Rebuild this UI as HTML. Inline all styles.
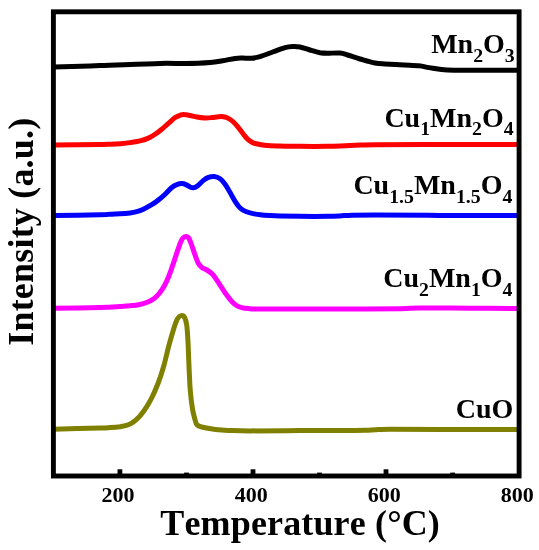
<!DOCTYPE html>
<html><head><meta charset="utf-8"><title>H2-TPR</title>
<style>html,body{margin:0;padding:0;background:#fff}svg{display:block}</style></head>
<body>
<svg width="539" height="550" viewBox="0 0 539 550">
<rect width="539" height="550" fill="#fff"/>
<path d="M54.0,67.0C61.7,66.8 82.3,66.2 100.0,65.6C117.7,65.0 145.8,63.7 160.0,63.4C174.2,63.1 176.7,63.7 185.0,63.6C193.3,63.5 203.7,63.1 210.0,62.6C216.3,62.1 218.4,61.5 222.6,60.8C226.8,60.1 231.7,58.8 235.0,58.4C238.3,58.0 239.9,58.1 242.6,58.1C245.3,58.1 248.5,58.5 251.4,58.3C254.3,58.0 256.4,57.6 260.0,56.6C263.6,55.6 268.5,53.5 272.7,52.0C276.9,50.5 281.7,48.5 285.0,47.6C288.3,46.7 290.2,46.6 292.7,46.5C295.2,46.4 297.1,46.4 300.0,47.0C302.9,47.6 306.7,49.0 310.0,50.0C313.3,51.0 317.1,52.2 320.0,52.8C322.9,53.3 324.2,53.3 327.5,53.3C330.8,53.3 336.6,52.7 340.0,53.0C343.4,53.3 344.3,54.0 347.6,55.0C350.9,56.0 355.4,57.7 360.0,59.0C364.6,60.3 370.8,62.2 375.0,63.0C379.2,63.8 380.2,63.7 385.0,64.0C389.8,64.3 398.3,64.7 404.0,65.0C409.7,65.3 414.8,65.4 419.0,65.8C423.2,66.2 425.2,67.0 429.0,67.6C432.8,68.2 437.3,69.2 441.5,69.6C445.7,70.0 447.6,70.1 454.0,70.2C460.4,70.3 469.2,70.3 480.0,70.3C490.8,70.3 512.5,70.3 519.0,70.3" fill="none" stroke="#000000" stroke-width="5" stroke-linejoin="round" stroke-linecap="butt"/>
<path d="M54.0,145.0C61.7,144.9 90.7,144.6 100.0,144.5C109.3,144.4 106.7,144.3 110.0,144.2C113.3,144.1 116.7,144.0 120.0,143.7C123.3,143.4 126.7,143.1 130.0,142.6C133.3,142.1 136.9,141.7 140.0,140.9C143.1,140.2 145.9,139.2 148.4,138.1C150.9,137.0 152.9,135.7 155.1,134.2C157.3,132.7 159.6,131.0 161.8,129.2C164.0,127.4 166.2,125.3 168.4,123.4C170.6,121.5 173.2,119.0 175.1,117.6C177.0,116.2 178.6,115.7 180.1,115.2C181.6,114.7 182.6,114.5 184.3,114.6C186.0,114.6 188.0,115.1 190.1,115.5C192.2,115.9 194.3,116.6 196.8,117.0C199.3,117.4 202.5,117.8 205.0,117.9C207.5,118.0 209.5,117.8 211.7,117.6C213.9,117.4 216.4,116.8 218.4,116.7C220.4,116.6 221.7,116.5 223.4,116.8C225.1,117.1 226.7,117.5 228.4,118.4C230.1,119.3 231.7,120.5 233.4,122.0C235.1,123.5 236.7,125.6 238.4,127.6C240.1,129.6 241.9,132.3 243.4,134.2C244.9,136.1 246.1,137.8 247.6,139.2C249.1,140.6 250.8,141.8 252.6,142.6C254.4,143.4 256.1,143.7 258.5,144.2C260.9,144.7 263.2,145.1 266.8,145.4C270.4,145.7 274.5,145.8 280.0,146.0C285.5,146.2 292.1,146.2 300.0,146.3C307.9,146.4 320.2,146.4 327.7,146.3C335.2,146.2 339.6,145.9 345.0,145.7C350.4,145.5 355.0,145.3 360.0,145.1C365.0,144.9 361.7,144.8 375.0,144.7C388.3,144.6 416.0,144.5 440.0,144.5C464.0,144.5 505.8,144.5 519.0,144.5" fill="none" stroke="#ff0000" stroke-width="5" stroke-linejoin="round" stroke-linecap="butt"/>
<path d="M54.0,215.6C61.7,215.5 90.7,215.0 100.0,214.8C109.3,214.6 106.7,214.4 110.0,214.2C113.3,214.0 116.7,213.9 120.0,213.7C123.3,213.5 127.2,213.2 130.0,212.9C132.8,212.6 134.5,212.3 136.7,211.7C138.9,211.1 140.9,210.4 143.4,209.2C145.9,208.0 149.2,206.2 151.7,204.7C154.2,203.2 156.2,201.8 158.4,200.0C160.6,198.2 162.9,196.3 165.1,194.2C167.3,192.1 169.9,189.1 171.8,187.5C173.8,185.9 175.1,185.2 176.8,184.6C178.5,183.9 180.3,183.6 181.8,183.6C183.3,183.6 184.6,184.0 186.0,184.6C187.4,185.2 188.9,186.5 190.1,187.0C191.3,187.5 192.2,188.0 193.4,187.8C194.6,187.7 195.5,187.3 197.2,186.1C198.9,184.9 201.5,181.9 203.4,180.4C205.3,178.9 206.6,178.0 208.4,177.3C210.2,176.7 212.2,176.3 214.2,176.5C216.1,176.7 218.3,177.4 220.1,178.7C221.9,180.0 223.4,181.9 225.1,184.2C226.8,186.5 228.4,189.7 230.1,192.6C231.8,195.5 233.6,199.0 235.1,201.4C236.6,203.8 237.9,205.6 239.3,207.1C240.7,208.6 241.6,209.4 243.4,210.4C245.2,211.4 247.3,212.2 250.1,212.9C252.9,213.6 256.8,214.4 260.1,214.8C263.4,215.2 266.8,215.4 270.1,215.6C273.4,215.8 275.0,215.9 280.0,216.0C285.0,216.1 292.1,216.2 300.0,216.3C307.9,216.4 321.0,216.4 327.7,216.3C334.4,216.2 335.9,216.1 340.0,215.9C344.1,215.7 346.2,215.3 352.0,215.2C357.8,215.0 360.3,215.0 375.0,215.0C389.7,215.0 416.0,215.3 440.0,215.4C464.0,215.5 505.8,215.4 519.0,215.4" fill="none" stroke="#0000ff" stroke-width="5" stroke-linejoin="round" stroke-linecap="butt"/>
<path d="M54.0,308.3C61.7,308.2 89.0,307.8 100.0,307.5C111.0,307.2 115.0,306.8 120.0,306.5C125.0,306.2 126.9,306.1 130.0,305.8C133.1,305.5 135.7,305.4 138.6,304.8C141.5,304.2 144.7,303.3 147.3,302.2C149.9,301.1 152.2,299.9 154.2,298.4C156.2,296.9 157.7,295.3 159.4,293.2C161.1,291.1 162.9,288.4 164.5,285.5C166.1,282.6 167.5,279.6 168.9,276.0C170.3,272.4 171.8,268.1 173.2,263.9C174.6,259.7 176.2,254.7 177.5,250.9C178.8,247.2 180.0,243.6 181.0,241.4C182.0,239.2 182.7,238.4 183.5,237.6C184.3,236.8 185.2,236.3 186.1,236.4C187.0,236.5 187.8,236.7 188.7,238.0C189.6,239.3 190.3,241.3 191.3,244.0C192.3,246.7 193.7,251.2 194.8,254.4C196.0,257.6 197.0,260.9 198.2,263.0C199.3,265.1 200.2,266.1 201.7,267.3C203.1,268.5 205.1,268.9 206.9,270.0C208.7,271.1 210.7,272.4 212.3,274.0C213.9,275.6 215.0,277.5 216.6,279.8C218.2,282.1 220.0,285.1 221.7,287.6C223.4,290.2 225.0,292.8 226.7,295.1C228.4,297.4 230.0,299.6 231.7,301.4C233.4,303.1 235.0,304.6 236.7,305.6C238.4,306.6 239.8,307.1 241.7,307.6C243.6,308.1 245.6,308.4 248.4,308.6C251.2,308.8 251.5,308.9 258.4,309.0C265.3,309.1 276.4,309.1 290.0,309.1C303.6,309.1 321.7,309.1 340.0,309.0C358.3,308.9 386.7,309.0 400.0,308.8C413.3,308.6 408.3,308.1 420.0,308.0C431.7,307.9 453.5,308.1 470.0,308.2C486.5,308.3 510.8,308.4 519.0,308.5" fill="none" stroke="#ff00ff" stroke-width="5" stroke-linejoin="round" stroke-linecap="butt"/>
<path d="M54.0,429.2C61.7,429.0 90.7,428.3 100.0,428.0C109.3,427.7 106.7,427.7 110.0,427.5C113.3,427.3 116.7,427.1 119.8,426.7C122.9,426.2 125.7,425.9 128.4,424.8C131.1,423.7 133.3,422.4 135.8,420.2C138.3,418.0 140.9,415.1 143.5,411.5C146.1,407.9 148.8,403.6 151.2,398.9C153.6,394.2 155.9,388.9 158.0,383.5C160.1,378.1 161.9,372.5 163.7,366.2C165.5,359.9 167.2,351.8 168.9,345.5C170.6,339.2 172.4,333.0 173.8,328.5C175.2,324.0 176.2,320.8 177.5,318.7C178.8,316.6 180.1,315.8 181.3,315.6C182.5,315.4 183.7,315.9 184.6,317.5C185.5,319.1 186.1,320.9 186.7,325.0C187.3,329.1 187.6,334.9 188.0,341.8C188.4,348.7 188.6,358.2 189.0,366.4C189.4,374.6 189.7,383.8 190.3,390.9C190.9,398.0 191.7,404.1 192.5,409.0C193.3,413.9 194.5,417.8 195.2,420.3C195.9,422.8 196.1,423.3 196.5,424.1C196.9,424.9 196.9,424.9 197.6,425.3C198.3,425.7 199.0,426.2 200.5,426.6C202.0,427.1 203.9,427.5 206.4,428.0C208.9,428.5 211.8,429.0 215.5,429.4C219.2,429.8 222.7,430.1 228.4,430.4C234.2,430.6 238.1,430.9 250.0,430.9C261.9,430.9 282.5,430.7 300.0,430.6C317.5,430.5 344.0,430.6 355.0,430.5C366.0,430.4 362.5,430.4 366.0,430.3C369.5,430.2 372.0,429.9 376.0,429.7C380.0,429.5 379.3,429.4 390.0,429.3C400.7,429.2 418.5,429.4 440.0,429.4C461.5,429.4 505.8,429.5 519.0,429.5" fill="none" stroke="#808000" stroke-width="5" stroke-linejoin="round" stroke-linecap="butt"/>
<rect x="117.5" y="469.3" width="4.8" height="5" fill="#000"/>
<rect x="250.6" y="469.3" width="4.8" height="5" fill="#000"/>
<rect x="383.6" y="469.3" width="4.8" height="5" fill="#000"/>
<rect x="184.1" y="472.6" width="4.8" height="2" fill="#000"/>
<rect x="317.1" y="472.6" width="4.8" height="2" fill="#000"/>
<rect x="450.2" y="472.6" width="4.8" height="2" fill="#000"/>
<rect x="53.4" y="11.8" width="465.70000000000005" height="464.2" fill="none" stroke="#000" stroke-width="4.9"/>
<g font-family="'Liberation Serif', serif" font-weight="bold" fill="#000" style="font-kerning:none">
<text x="118.1" y="502" font-size="22" text-anchor="middle">200</text>
<text x="251.2" y="502" font-size="22" text-anchor="middle">400</text>
<text x="384.2" y="502" font-size="22" text-anchor="middle">600</text>
<text x="517.3" y="502" font-size="22" text-anchor="middle">800</text>
<text x="160.3" y="534.5" font-size="36" letter-spacing="0.15">Temperature (°C)</text>
<text transform="translate(32.7,345.8) rotate(-90)" font-size="36" letter-spacing="0.2">Intensity (a.u.)</text>
<text x="431.2" y="53.2" font-size="28"><tspan font-size="28" dy="0">Mn</tspan><tspan font-size="19.8" dy="8.3">2</tspan><tspan font-size="28" dy="-8.3">O</tspan><tspan font-size="19.8" dy="8.3">3</tspan></text>
<text x="384.4" y="126.8" font-size="28"><tspan font-size="28" dy="0">Cu</tspan><tspan font-size="19.8" dy="8.3">1</tspan><tspan font-size="28" dy="-8.3">Mn</tspan><tspan font-size="19.8" dy="8.3">2</tspan><tspan font-size="28" dy="-8.3">O</tspan><tspan font-size="19.8" dy="8.3">4</tspan></text>
<text x="353.4" y="194.2" font-size="28"><tspan font-size="28" dy="0">Cu</tspan><tspan font-size="19.8" dy="8.3">1.5</tspan><tspan font-size="28" dy="-8.3">Mn</tspan><tspan font-size="19.8" dy="8.3">1.5</tspan><tspan font-size="28" dy="-8.3">O</tspan><tspan font-size="19.8" dy="8.3">4</tspan></text>
<text x="383.2" y="287.2" font-size="28"><tspan font-size="28" dy="0">Cu</tspan><tspan font-size="19.8" dy="8.3">2</tspan><tspan font-size="28" dy="-8.3">Mn</tspan><tspan font-size="19.8" dy="8.3">1</tspan><tspan font-size="28" dy="-8.3">O</tspan><tspan font-size="19.8" dy="8.3">4</tspan></text>
<text x="455.8" y="417.6" font-size="28"><tspan font-size="28" dy="0">CuO</tspan></text>
</g>
</svg>
</body></html>
